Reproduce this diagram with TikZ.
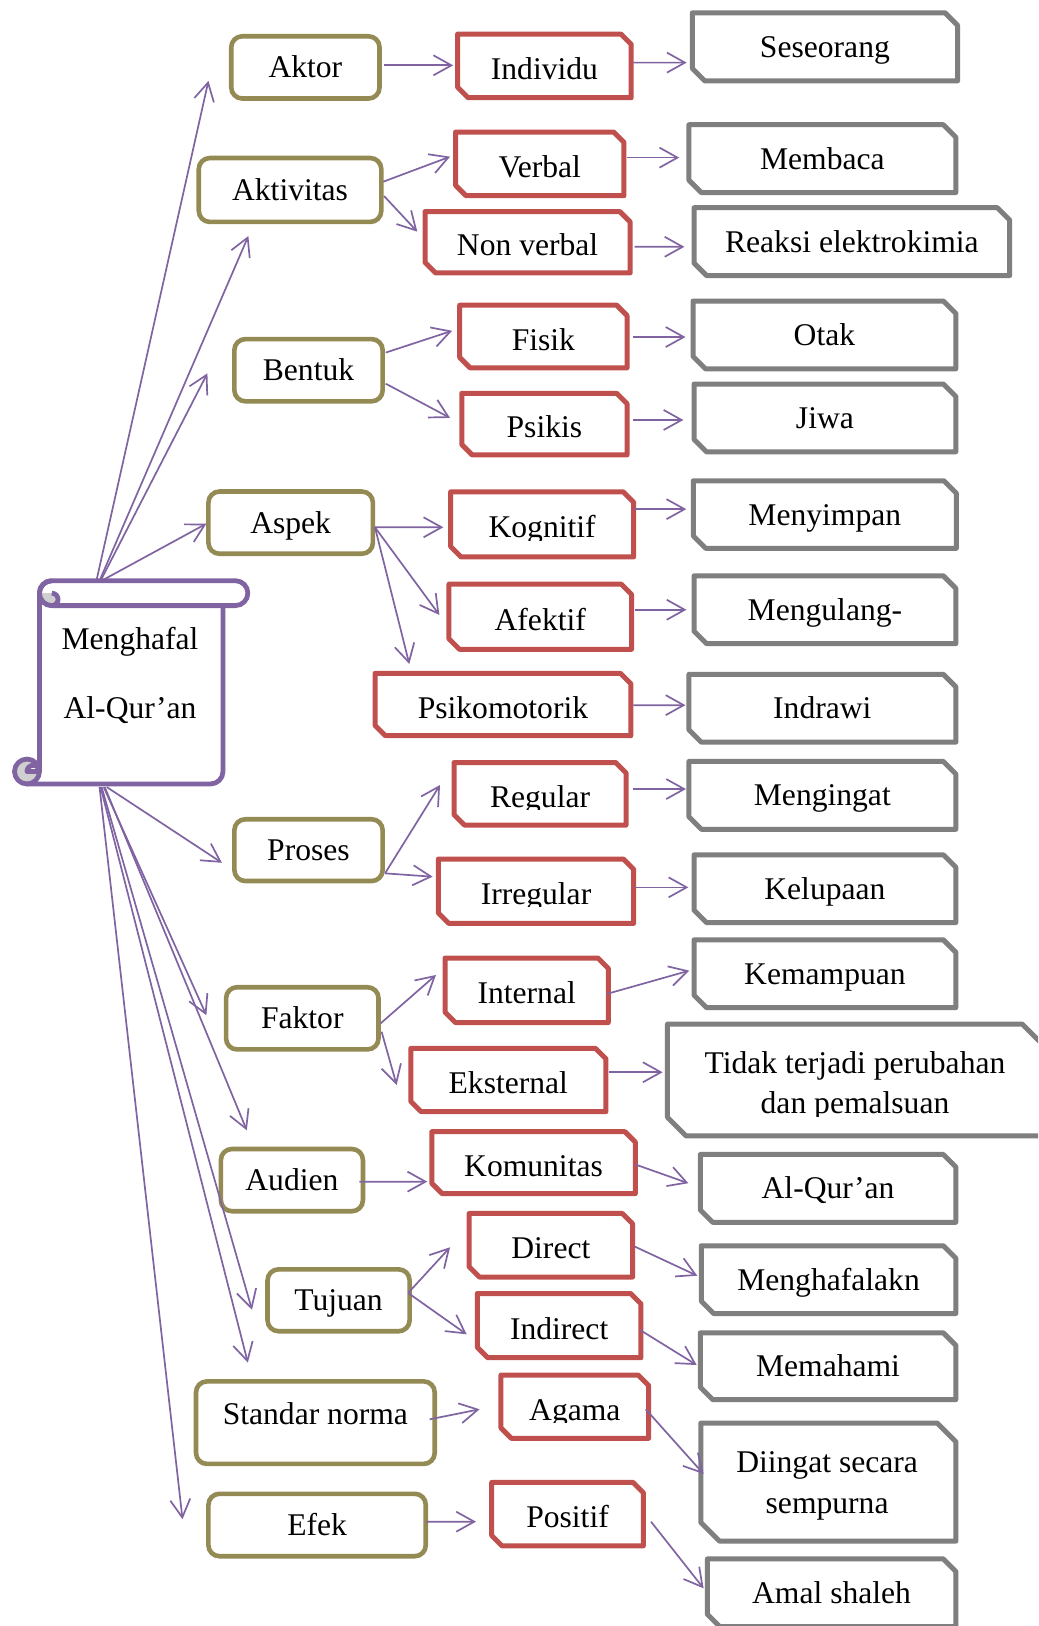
\documentclass[tikz,border=0pt]{standalone}
\usepackage{fontspec}
\setmainfont{Liberation Serif}
\usetikzlibrary{arrows.meta,calc}

\definecolor{oliveline}{HTML}{948A54}
\definecolor{redline}{HTML}{C0504D}
\definecolor{greyline}{HTML}{7F7F7F}
\definecolor{linkline}{HTML}{8064A2}
\definecolor{curlshade}{HTML}{CFCFCF}

% one picture unit
\newcommand\upx{0.5185pt}

\tikzset{
  sized/.style 2 args={minimum width={(#1)*\upx}, minimum height={(#2)*\upx}},
  lbl/.style={font=\fontsize{15.8}{19}\selectfont, inner sep=0pt, outer sep=0pt},
  obox/.style={lbl, rectangle, draw=oliveline, line width=2.3pt, rounded corners=5.5pt,
               fill=white, text height=11pt, text depth=0.53pt},
  rbox/.style={lbl, rectangle, text height=13.6pt, text depth=0pt},
  gbox/.style={lbl, rectangle, text height=11pt, text depth=0.53pt},
  arr/.style={draw=linkline, line width=0.85pt, -{Straight Barb[length=9pt,width=10pt]}},
  rframe/.style={draw=redline, line width=2.5pt, line join=round},
  gframe/.style={draw=greyline, line width=2.5pt, line join=round},
  scrollline/.style={draw=linkline, line width=2.4pt, line join=round},
}

% outline with the top-right and bottom-left corners cut off
\newcommand\snipframe[3]{%
  \draw[#2] (#1.north west) -- ($(#1.north east)+(-#3,0)$) -- ($(#1.north east)+(0,#3)$)
    -- (#1.south east) -- ($(#1.south west)+(#3,0)$) -- ($(#1.south west)+(0,-#3)$) -- cycle;}

% arrow between two named points, each with an offset
\newcommand\conn[6]{\draw[arr] ($(#1)+(#2,#3)$) -- ($(#4)+(#5,#6)$);}

\begin{document}
\begin{tikzpicture}[x=\upx, y=-\upx]
\fill[white] (0,0) rectangle (1001,1568);
\clip (0,0) rectangle (1001,1568);

% ---------- scroll ----------
\fill[white] (38,572) -- (38,744) -- (26,756) -- (203,756)
  arc[start angle=90, end angle=0, radius=12] -- (215,584) -- (50,584) -- cycle;
\draw[scrollline] (38,572) -- (38,744);
\draw[scrollline] (26,756) -- (203,756) arc[start angle=90, end angle=0, radius=12] -- (215,584);
\filldraw[scrollline, fill=white] (50,560) -- (227,560)
  arc[start angle=270, end angle=450, radius=12] -- (50,584)
  arc[start angle=90, end angle=270, radius=12] -- cycle;
\fill[curlshade] (50,572) arc[start angle=270, end angle=450, radius=6]
  arc[start angle=90, end angle=180, radius=12] -- cycle;
\draw[scrollline] (50,572) arc[start angle=270, end angle=450, radius=6]
  arc[start angle=90, end angle=270, radius=12];
\filldraw[scrollline, fill=curlshade] (26,744) circle[radius=12];
\filldraw[scrollline, fill=white] (26,744) arc[start angle=180, end angle=360, radius=6] -- cycle;
\node[lbl, align=center, font=\fontsize{15.8}{34.5}\selectfont] (scroll) at (125.4,651.6)
  {Menghafal\\Al-Qur’an};
\coordinate (sTop) at (96,560);
\coordinate (sBot) at (100,759);

% ---------- first column ----------
\node[obox, sized={143}{60}]     (aktor)   at (294.5,65)     {Aktor};
\node[obox, sized={176}{61.6}]   (aktiv)   at (279.7,183.2)  {Aktivitas};
\node[obox, sized={143}{60}]     (bentuk)  at (297.5,357)    {Bentuk};
\node[obox, sized={158.6}{60}]   (aspek)   at (280.3,504)    {Aspek};
\node[obox, sized={143}{59.6}]   (proses)  at (297.5,819.8)  {Proses};
\node[obox, sized={147}{60}]     (faktor)  at (291.5,982)    {Faktor};
\node[obox, sized={137}{60}]     (audien)  at (281.5,1138)   {Audien};
\node[obox, sized={137}{59.7}]   (tujuan)  at (326.5,1253.9) {Tujuan};
\node[obox, sized={230.2}{79.6}, text height=11pt, text depth=9pt]
                                 (standar) at (304.1,1371.9) {Standar norma};
\node[obox, sized={209.6}{60.2}] (efek)    at (305.8,1470.6) {Efek};

% ---------- second column ----------
\node[rbox, sized={167.4}{61.4}] (indiv)     at (525,63.5)     {Individu};
\node[rbox, sized={162.4}{61.4}] (verbal)    at (520.5,158)    {Verbal};
\node[rbox, sized={197.8}{59.1}] (nonv)      at (508.8,233.6)  {Non verbal};
\node[rbox, sized={161.4}{60.4}] (fisik)     at (524,324.5)    {Fisik};
\node[rbox, sized={159.4}{59.4}] (psikis)    at (525,409)      {Psikis};
\node[rbox, sized={176.4}{62.8}] (kog)       at (522.8,505.7)  {};
\node[rbox, sized={176.1}{62.8}] (afek)      at (521,594.7)    {Afektif};
\node[rbox, sized={246.7}{60.1}] (psiko)     at (485,679.4)    {Psikomotorik};
\node[rbox, sized={165.8}{60.4}] (regular)   at (520.8,765.5)  {};
\node[rbox, sized={188.3}{62.1}] (irreg)     at (516.9,859.4)  {};
\node[rbox, sized={157.4}{62.2}] (internal)  at (507.9,955)    {Internal};
\node[rbox, sized={188.2}{61}]   (eksternal) at (490.2,1041.5) {Eksternal};
\node[rbox, sized={196.3}{59.7}] (komunitas) at (514.5,1121.2) {Komunitas};
\node[rbox, sized={157.7}{61.3}] (direct)    at (531.2,1200.8) {Direct};
\node[rbox, sized={157.8}{61.9}] (indirect)  at (539.2,1278.3) {Indirect};
\node[rbox, sized={142.4}{61}]   (agama)     at (554.3,1356.5) {};
\node[rbox, sized={146.3}{61.2}] (positif)   at (547.3,1460.1) {Positif};
\foreach \n in {indiv,verbal,nonv,fisik,psikis,kog,afek,psiko,regular,irreg,
                internal,eksternal,komunitas,direct,indirect,agama,positif}
  {\snipframe{\n}{rframe}{10}}

% labels whose descenders are cut off by the text area
\begin{scope}
  \clip (430,470) rectangle (615,520.8);
  \node[lbl, anchor=base] (kogT) at (522.8,518.8) {Kognitif};
\end{scope}
\begin{scope}
  \clip (430,730) rectangle (610,780.6);
  \node[lbl, anchor=base] (regularT) at (520.8,778.6) {Regular};
\end{scope}
\begin{scope}
  \clip (420,825) rectangle (615,874.5);
  \node[lbl, anchor=base] (irregT) at (516.9,872.5) {Irregular};
\end{scope}
\begin{scope}
  \clip (480,1320) rectangle (630,1371.6);
  \node[lbl, anchor=base] (agamaT) at (554.3,1369.6) {Agama};
\end{scope}

% ---------- third column ----------
\node[gbox, sized={255.7}{65.7}] (seseo)     at (795.5,45.2)  {Seseorang};
\node[gbox, sized={257.4}{65.4}] (membaca)   at (793,153)     {Membaca};
\node[gbox, sized={304.4}{65.4}] (reaksi)    at (821.5,233)   {Reaksi elektrokimia};
\node[gbox, sized={253.4}{65.4}] (otak)      at (795,323)     {Otak};
\node[gbox, sized={252.4}{65.4}] (jiwa)      at (795.5,403)   {Jiwa};
\node[gbox, sized={253.7}{65.1}] (menyimpan) at (795.4,496.2) {Menyimpan};
\node[gbox, sized={252.4}{65.4}] (mengulang) at (795.5,588)   {Mengulang-};
\node[gbox, sized={257.4}{65.4}] (indrawi)   at (793,683)     {Indrawi};
\node[gbox, sized={257.4}{65.4}] (mengingat) at (793,767)     {Mengingat};
\node[gbox, sized={252.4}{65.4}] (kelupaan)  at (795.5,857)   {Kelupaan};
\node[gbox, sized={252.4}{65.4}] (kemampuan) at (795.5,939)   {Kemampuan};
\node[gbox, sized={360.1}{107.9}] (tidak)    at (823.7,1041.5) {};
\node[gbox, sized={246.4}{65.4}] (alquran)   at (798.5,1146)  {Al-Qur’an};
\node[gbox, sized={245.4}{65.4}] (mghf)      at (799,1234)    {Menghafalakn};
\node[gbox, sized={246.4}{64.4}] (memahami)  at (798.5,1317.5) {Memahami};
\node[gbox, sized={246.1}{113.7}] (diingat)  at (798.8,1429.2) {};
\node[gbox, sized={239.6}{65.4}] (amal)      at (801.9,1536)  {Amal shaleh};
\foreach \n in {seseo,membaca,reaksi,otak,jiwa,menyimpan,mengulang,indrawi,
                mengingat,kelupaan,kemampuan,alquran,mghf,memahami,amal}
  {\snipframe{\n}{gframe}{12}}
\snipframe{tidak}{gframe}{18}
\snipframe{diingat}{gframe}{18}

\begin{scope}
  \clip (645,990) rectangle (1001,1076.8);
  \node[lbl, align=center, font=\fontsize{15.8}{20}\selectfont] (tidakT) at (824.5,1047.2)
    {Tidak terjadi perubahan\\dan pemalsuan};
\end{scope}
\node[lbl, align=center, font=\fontsize{15.8}{20.3}\selectfont] (diingatT) at (797.6,1432.6)
  {Diingat secara\\sempurna};

% ---------- connectors from the scroll ----------
\conn{sTop}{-3}{0}{aktor}{-93.5}{13}
\conn{sTop}{0}{0}{aktiv}{-40.2}{44.4}
\conn{sTop}{1}{0}{bentuk}{-97.5}{3}
\conn{sTop}{2}{0}{aspek}{-81.3}{1}
\conn{sBot}{3}{0}{proses}{-83.5}{12.2}
\conn{sBot}{0}{0}{faktor}{-92.5}{-3}
\conn{sBot}{1}{0}{audien}{-43.5}{-48}
\conn{sBot}{-2}{0}{tujuan}{-83.5}{9.1}
\conn{sBot}{-3}{0}{standar}{-65.1}{-57.9}
\conn{sBot}{-4}{0}{efek}{-129.8}{-5.6}

% ---------- first to second column ----------
\conn{aktor}{75.5}{-2}{indiv}{-88}{-0.5}
\conn{aktiv}{89.9}{-8}{verbal}{-86.5}{-6.9}
\conn{aktiv}{90.6}{5.8}{nonv}{-106.4}{-10.2}
\conn{bentuk}{74.5}{-17}{fisik}{-88}{-5.5}
\conn{bentuk}{74.5}{13}{psikis}{-91}{-6}
\conn{aspek}{81.3}{4.5}{kog}{-95.3}{2.8}
\conn{aspek}{81.3}{4.5}{afek}{-97.3}{-1.7}
\conn{aspek}{81.3}{4.5}{psiko}{-90.3}{-39.1}
\conn{proses}{73.8}{22.4}{regular}{-96.5}{-8.5}
\conn{proses}{73.8}{22.4}{irreg}{-99.7}{-14}
\conn{faktor}{75.6}{4.8}{internal}{-87.5}{-14.8}
\conn{faktor}{76.5}{12.9}{eksternal}{-107.7}{4.8}
\conn{audien}{65}{1.5}{komunitas}{-102.5}{18.3}
\conn{tujuan}{67.3}{-7.3}{direct}{-97.2}{2}
\conn{tujuan}{67.3}{-6.9}{indirect}{-89.2}{8.4}
\conn{standar}{110.2}{-3.2}{agama}{-91.8}{2.5}
\conn{efek}{105}{-3.2}{positif}{-88.3}{7.3}

% ---------- second to third column ----------
\conn{indiv}{85.7}{-3.1}{seseo}{-133.3}{15.2}
\conn{verbal}{84.5}{-6}{membaca}{-138}{-1}
\conn{nonv}{103.2}{4.4}{reaksi}{-161.5}{5}
\conn{fisik}{86}{0.5}{otak}{-134}{2}
\conn{psikis}{85}{-4}{jiwa}{-136.5}{2}
\conn{kog}{88.2}{-14.7}{menyimpan}{-133.6}{-5.2}
\conn{afek}{91.3}{-6.7}{mengulang}{-133.5}{0}
\conn{psiko}{125.7}{0.6}{indrawi}{-132}{-3}
\conn{regular}{89.2}{-4.6}{mengingat}{-131.5}{-6.1}
\conn{irreg}{94.5}{-3.7}{kelupaan}{-131.7}{-1.3}
\conn{internal}{77.1}{3.5}{kemampuan}{-130.8}{-3}
\conn{eksternal}{97.4}{-7.5}{tidak}{-184.7}{-7.5}
\conn{komunitas}{97.8}{1.6}{alquran}{-134.7}{-5}
\conn{direct}{81.1}{1.4}{mghf}{-126.6}{-3.8}
\conn{indirect}{78}{4.2}{memahami}{-126.7}{-1.2}
\conn{agama}{68.4}{2.5}{diingat}{-120.3}{-7.8}
\conn{positif}{80.5}{7.3}{amal}{-123.4}{-4.3}
\end{tikzpicture}
\end{document}
